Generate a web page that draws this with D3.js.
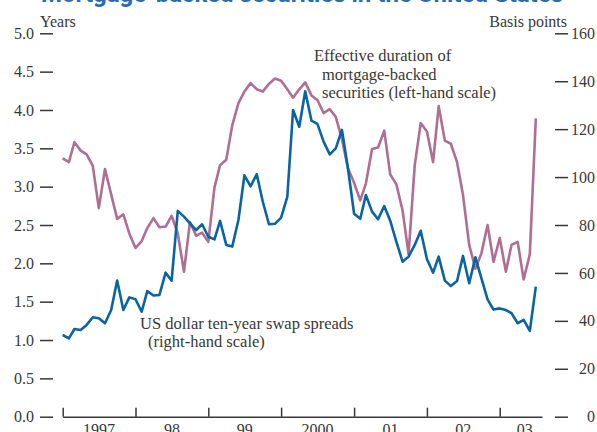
<!DOCTYPE html>
<html>
<head>
<meta charset="utf-8">
<script src="https://cdn.jsdelivr.net/npm/d3@7"></script>
<style>
  body { margin: 0; background: #fff; }
  svg { display: block; }
  text { font-family: "Liberation Serif", serif; fill: #383838; }
</style>
</head>
<body>
<div id="chart"></div>
<script>
// monthly observations, Jan 1997 - Jul 2003
const startMonth = new Date(1997, 0, 1);
const endDomain = new Date(2003, 7, 1);

// effective duration of MBS, years (left-hand scale)
const duration = [
  3.37, 3.32, 3.58, 3.47, 3.42, 3.27, 2.72, 3.23, 2.90, 2.58,
  2.64, 2.39, 2.20, 2.29, 2.46, 2.59, 2.47, 2.48, 2.62, 2.39,
  1.89, 2.54, 2.36, 2.40, 2.28, 2.99, 3.28, 3.35, 3.80, 4.09,
  4.24, 4.35, 4.27, 4.24, 4.34, 4.41, 4.38, 4.27, 4.16, 4.27,
  4.36, 4.19, 4.13, 3.96, 4.01, 3.91, 3.62, 3.24, 3.05, 2.82,
  3.04, 3.49, 3.51, 3.73, 3.16, 3.03, 2.69, 2.12, 3.28, 3.83,
  3.72, 3.32, 4.05, 3.60, 3.56, 3.32, 2.89, 2.24, 1.93, 2.13,
  2.50, 2.02, 2.33, 1.89, 2.24, 2.28, 1.79, 2.12, 3.89
];

// US dollar ten-year swap spreads, basis points (right-hand scale)
const swapSpread = [
  34.1, 32.7, 36.6, 36.2, 38.3, 41.5, 41.1, 39.0, 44.5, 56.8,
  44.5, 49.8, 49.0, 43.8, 52.4, 50.6, 50.8, 60.1, 56.8, 85.9,
  83.5, 80.7, 77.9, 80.3, 75.1, 74.0, 81.7, 71.7, 71.0, 82.1,
  100.7, 96.1, 101.2, 89.8, 80.3, 80.5, 83.1, 91.7, 128.0, 121.0,
  135.8, 123.6, 122.2, 114.8, 109.5, 112.0, 119.7, 103.7, 84.7, 82.6,
  92.5, 85.6, 82.4, 87.9, 81.8, 73.0, 64.7, 66.8, 71.7, 77.6,
  65.8, 60.1, 66.8, 56.8, 54.5, 56.6, 67.1, 55.7, 66.5, 57.8,
  49.0, 44.7, 45.2, 44.5, 43.2, 39.0, 40.4, 35.8, 54.3
];

const leftTicks = [0, 0.5, 1, 1.5, 2, 2.5, 3, 3.5, 4, 4.5, 5];
const rightTicks = [0, 20, 40, 60, 80, 100, 120, 140, 160];
const yearLabels = ["1997", "98", "99", "2000", "01", "02", "03"];

const W = 597, H = 432;
const durColor = "#b06e92", swapColor = "#0b64a2";

const svg = d3.select("#chart").append("svg")
  .attr("width", W).attr("height", H);

const x = d3.scaleTime().domain([startMonth, endDomain]).range([62.7, 542]);
const yL = d3.scaleLinear().domain([0, 5]).range([416.7, 33.3]);
const yR = d3.scaleLinear().domain([0, 160]).range([416.7, 33.3]);

const dates = duration.map((d, i) => d3.timeMonth.offset(startMonth, i));

// title, mostly cut off at the top edge
svg.append("text")
  .attr("x", 41).attr("y", 2)
  .attr("textLength", 522).attr("lengthAdjust", "spacingAndGlyphs")
  .style("font-family", "Roboto, sans-serif")
  .style("font-weight", "bold").style("font-size", "24px")
  .style("fill", "#2a6cb0")
  .text("Mortgage-backed securities in the United States");

// left axis
const gL = svg.append("g").attr("transform", "translate(53,0)")
  .call(d3.axisLeft(yL).tickValues(leftTicks).tickFormat(d3.format(".1f"))
    .tickSize(13).tickPadding(6).tickSizeOuter(0));
gL.select(".domain").remove();

// right axis
const gR = svg.append("g").attr("transform", "translate(555,0)")
  .call(d3.axisRight(yR).tickValues(rightTicks).tickSize(13).tickSizeOuter(0));
gR.select(".domain").remove();
gR.selectAll("text").attr("x", 40).attr("text-anchor", "end");

[gL, gR].forEach(g => {
  g.selectAll("line").attr("stroke", "#383838").attr("stroke-width", 1.5);
  g.selectAll("text").style("font-family", "Liberation Serif, serif")
    .style("font-size", "16px").attr("fill", "#383838");
});

// bottom axis: year ticks pointing up
const gX = svg.append("g").attr("transform", "translate(0,416.7)")
  .call(d3.axisBottom(x).ticks(d3.timeYear.every(1)).tickSizeInner(-9)
    .tickSizeOuter(0).tickFormat(""));
gX.select(".domain").attr("stroke", "#383838").attr("stroke-width", 1.5);
gX.selectAll("line").attr("stroke", "#383838").attr("stroke-width", 1.5);

const years = d3.timeYear.range(startMonth, endDomain);
svg.append("g").selectAll("text")
  .data(years)
  .join("text")
  .attr("x", (d, i) => {
    const next = d3.min([d3.timeYear.offset(d, 1), endDomain]);
    return (x(d) + x(next)) / 2 + (i === years.length - 1 ? 4 : 0);
  })
  .attr("y", 435)
  .attr("text-anchor", "middle")
  .style("font-size", "16px")
  .text((d, i) => yearLabels[i]);

// unit labels
svg.append("text").attr("x", 40).attr("y", 27)
  .style("font-size", "16px").text("Years");
svg.append("text").attr("x", 567).attr("y", 27).attr("text-anchor", "end")
  .style("font-size", "16px").text("Basis points");

// lines
const lineL = d3.line().x((d, i) => x(dates[i])).y(d => yL(d));
const lineR = d3.line().x((d, i) => x(dates[i])).y(d => yR(d));

svg.append("path").datum(duration)
  .attr("fill", "none").attr("stroke", durColor)
  .attr("stroke-width", 2.6).attr("stroke-linejoin", "round")
  .attr("d", lineL);

svg.append("path").datum(swapSpread)
  .attr("fill", "none").attr("stroke", swapColor)
  .attr("stroke-width", 2.6).attr("stroke-linejoin", "round")
  .attr("d", lineR);

// series annotations
const notes = [
  { x: 314, y: 61, t: "Effective duration of" },
  { x: 322, y: 79.5, t: "mortgage-backed" },
  { x: 322, y: 98, t: "securities (left-hand scale)" },
  { x: 140, y: 329, t: "US dollar ten-year swap spreads" },
  { x: 148, y: 347, t: "(right-hand scale)" }
];
svg.append("g").selectAll("text")
  .data(notes)
  .join("text")
  .attr("x", d => d.x).attr("y", d => d.y)
  .style("font-size", "16.5px")
  .text(d => d.t);
</script>
</body>
</html>
